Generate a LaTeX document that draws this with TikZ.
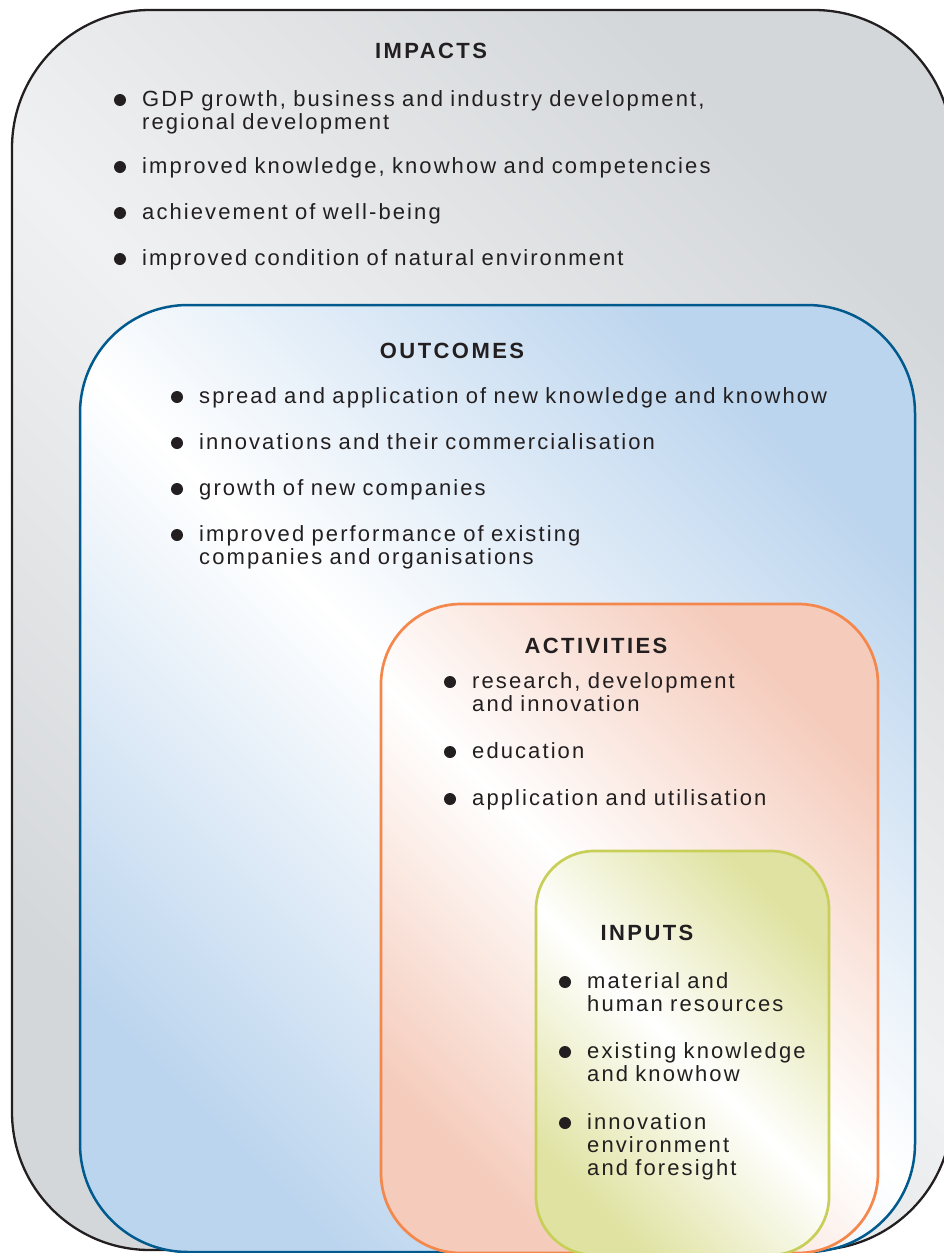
\documentclass[tikz,border=0pt]{standalone}
\usepackage{fontspec}
\setmainfont{Liberation Sans}
\newfontfamily\itemfont[LetterSpace=9.5]{Liberation Sans}
\newfontfamily\headfont[LetterSpace=11]{Liberation Sans}
\usetikzlibrary{calc}

\definecolor{ink}{HTML}{231F20}
\definecolor{impgray}{HTML}{D4D7DA}
\definecolor{impmid}{HTML}{F0F1F2}
\definecolor{outline}{HTML}{005A8E}
\definecolor{outfill}{HTML}{BCD5EE}
\definecolor{actline}{HTML}{F4874C}
\definecolor{actfill}{HTML}{F5CBBB}
\definecolor{inline}{HTML}{C8CF58}
\definecolor{infill}{HTML}{DFE2A0}

\begin{document}
\begin{tikzpicture}[
  x=1pt, y=-1pt,
  head/.style={font=\headfont\bfseries\fontsize{22}{23}\selectfont, text=ink, anchor=base, inner sep=0pt},
  item/.style={font=\itemfont\fontsize{22}{23}\selectfont, text=ink, anchor=base west, align=left, text width=700pt, inner sep=0pt},
  bul/.style={fill=ink},
  impzone/.style={draw=ink, line width=2.3pt, top color=impgray, bottom color=impgray, middle color=impmid, shading angle=-45, rounded corners=138pt},
  outzone/.style={draw=outline, line width=2.5pt, top color=outfill, bottom color=outfill, middle color=white, shading angle=-45, rounded corners=108pt},
  actzone/.style={draw=actline, line width=2.7pt, top color=actfill, bottom color=actfill, middle color=white, shading angle=-45, rounded corners=80pt},
  inzone/.style={draw=inline, line width=2.7pt, top color=infill, bottom color=infill, middle color=white, shading angle=-45, rounded corners=58pt}
]
\useasboundingbox (0,0) rectangle (943,1253);

% nested zones
\path[impzone] (12,10) rectangle (952,1250);
\path[outzone] (80,305) rectangle (915,1252);
\path[actzone] (381,604) rectangle (878,1253);
\path[inzone] (536,851) rectangle (829,1255);

% impacts
\node[head] (imphead) at (431,58) {IMPACTS};
\node[item] (imp1) at (142,106) {GDP growth, business and industry development,\\regional development};
\node[item] (imp2) at (142,173) {improved knowledge, knowhow and competencies};
\node[item] (imp3) at (142,219) {achievement of well-being};
\node[item] (imp4) at (142,265) {improved condition of natural environment};

% outcomes
\node[head] (outhead) at (452,358) {OUTCOMES};
\node[item] (out1) at (199,403) {spread and application of new knowledge and knowhow};
\node[item] (out2) at (199,449) {innovations and their commercialisation};
\node[item] (out3) at (199,495) {growth of new companies};
\node[item] (out4) at (199,541) {improved performance of existing\\companies and organisations};

% activities
\node[head] (acthead) at (596,653) {ACTIVITIES};
\node[item] (act1) at (472,688) {research, development\\and innovation};
\node[item] (act2) at (472,758) {education};
\node[item] (act3) at (472,805) {application and utilisation};

% inputs
\node[head] (inhead) at (647,940) {INPUTS};
\node[item] (in1) at (587,988) {material and\\human resources};
\node[item] (in2) at (587,1058) {existing knowledge\\and knowhow};
\node[item] (in3) at (587,1129) {innovation\\environment\\and foresight};

% bullets
\fill[bul] ($(imp1.base west)+(-22,-6)$) circle (6pt);
\fill[bul] ($(imp2.base west)+(-22,-6)$) circle (6pt);
\fill[bul] ($(imp3.base west)+(-22,-6)$) circle (6pt);
\fill[bul] ($(imp4.base west)+(-22,-6)$) circle (6pt);
\fill[bul] ($(out1.base west)+(-22,-6)$) circle (6pt);
\fill[bul] ($(out2.base west)+(-22,-6)$) circle (6pt);
\fill[bul] ($(out3.base west)+(-22,-6)$) circle (6pt);
\fill[bul] ($(out4.base west)+(-22,-6)$) circle (6pt);
\fill[bul] ($(act1.base west)+(-22,-6)$) circle (6pt);
\fill[bul] ($(act2.base west)+(-22,-6)$) circle (6pt);
\fill[bul] ($(act3.base west)+(-22,-6)$) circle (6pt);
\fill[bul] ($(in1.base west)+(-22,-6)$) circle (6pt);
\fill[bul] ($(in2.base west)+(-22,-6)$) circle (6pt);
\fill[bul] ($(in3.base west)+(-22,-6)$) circle (6pt);
\end{tikzpicture}
\end{document}
